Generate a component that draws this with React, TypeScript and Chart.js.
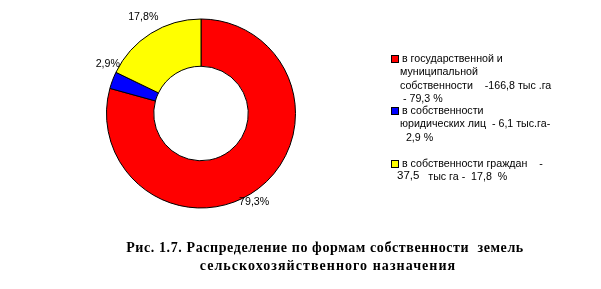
import React, { useEffect, useRef } from "react";
import { Chart, registerables } from "chart.js";

Chart.register(...registerables);

const categories = [
  "в государственной и муниципальной собственности",
  "в собственности юридических лиц",
  "в собственности граждан",
];
const areas = [166.8, 6.1, 37.5]; // тыс. га
const percentLabels = ["79,3%", "2,9%", "17,8%"];
const colors = ["#FF0000", "#0000FF", "#FFFF00"];
const legendLines = [
  ["в государственной и", "муниципальной", "собственности    -166,8 тыс .га", " - 79,3 %"],
  ["в собственности", "юридических лиц  - 6,1 тыс.га-", "  2,9 %"],
  ["в собственности граждан    -", "37,5   тыс га -  17,8  %"],
];
const captionLines = [
  "Рис. 1.7. Распределение по формам собственности  земель",
  "сельскохозяйственного назначения",
];

const overlayPlugin = {
  id: "overlay",
  afterDraw(chart: any) {
    const ctx = chart.ctx as CanvasRenderingContext2D;
    const meta = chart.getDatasetMeta(0);
    ctx.save();
    // slice labels
    ctx.font = '10.67px "Liberation Sans", Arial, sans-serif';
    ctx.fillStyle = "#000";
    ctx.textAlign = "center";
    ctx.textBaseline = "middle";
    const pads = [13, 12, 18];
    const nudges = [
      [-12, 3.5],
      [6.5, -11.5],
      [2, -1],
    ];
    meta.data.forEach((arc: any, i: number) => {
      const { x, y, startAngle, endAngle, outerRadius } = arc.getProps(
        ["x", "y", "startAngle", "endAngle", "outerRadius"],
        true
      );
      const mid = (startAngle + endAngle) / 2;
      const r = outerRadius + pads[i];
      ctx.fillText(
        percentLabels[i],
        x + Math.cos(mid) * r + nudges[i][0],
        y + Math.sin(mid) * r + nudges[i][1]
      );
    });

    // legend
    const itemTops = [59, 111, 164];
    const lineH = 13.3;
    ctx.textAlign = "left";
    ctx.textBaseline = "middle";
    legendLines.forEach((lines, i) => {
      const y0 = itemTops[i];
      ctx.fillStyle = colors[i];
      ctx.fillRect(392, y0 - 3, 6, 6);
      ctx.strokeStyle = "#000";
      ctx.lineWidth = 1;
      ctx.strokeRect(391.5, y0 - 3.5, 7, 7);
      ctx.fillStyle = "#000";
      lines.forEach((t, j) => {
        const x = j === 0 ? 402 : i === 2 ? 397 : 400;
        if (i === 2 && j === 1) {
          ctx.font = '11.5px "Liberation Sans", Arial, sans-serif';
          const first = t.slice(0, 4);
          ctx.fillText(first, x, y0 + j * lineH - 1);
          const w = ctx.measureText(first).width;
          ctx.font = '10.67px "Liberation Sans", Arial, sans-serif';
          ctx.fillText(t.slice(4), x + w, y0 + j * lineH);
        } else {
          ctx.fillText(t, x, y0 + j * lineH);
        }
      });
    });

    // caption
    ctx.font = 'bold 14px "Liberation Serif", "Times New Roman", serif';
    ctx.textAlign = "center";
    ctx.textBaseline = "alphabetic";
    (ctx as any).letterSpacing = "0.6px";
    ctx.fillText(captionLines[0], 325, 252);
    (ctx as any).letterSpacing = "1.05px";
    ctx.fillText(captionLines[1], 328, 270);
    ctx.restore();
  },
};

export default function App() {
  const ref = useRef<HTMLCanvasElement>(null);
  useEffect(() => {
    document.body.style.margin = "0";
    const chart = new Chart(ref.current!, {
      type: "doughnut",
      data: {
        labels: categories,
        datasets: [
          {
            data: areas,
            backgroundColor: colors,
            borderColor: "#000",
            borderWidth: 1,
          },
        ],
      },
      options: {
        responsive: false,
        animation: false,
        cutout: "50%",
        layout: { padding: { left: 106, right: 305, top: 18, bottom: 80 } },
        plugins: {
          legend: { display: false },
          tooltip: { enabled: false },
        },
      },
      plugins: [overlayPlugin],
    });
    return () => chart.destroy();
  }, []);
  return (
    <div style={{ width: 601, height: 289, background: "#fff" }}>
      <canvas ref={ref} width={601} height={289} />
    </div>
  );
}
